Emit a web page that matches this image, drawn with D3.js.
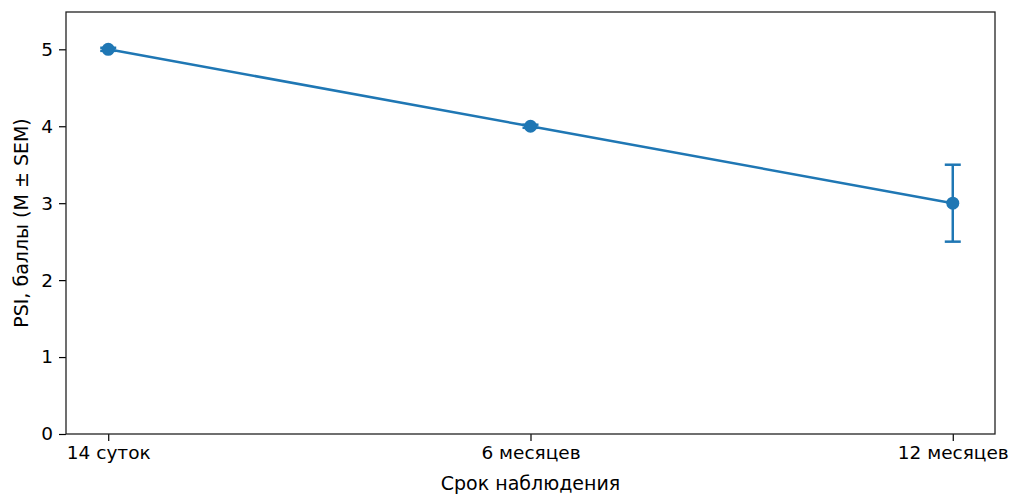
<!DOCTYPE html>
<html>
<head>
<meta charset="utf-8">
<script src="https://cdn.jsdelivr.net/npm/d3@7"></script>
<style>
  body { margin: 0; background: #fff; }
  svg { display: block; font-family: "DejaVu Sans", sans-serif; }
</style>
</head>
<body>
<div id="chart"></div>
<script>
    // ── data ──
    const categories = ["14 суток", "6 месяцев", "12 месяцев"];
    const means = [5.0, 4.0, 3.0];
    const sems = [0.02, 0.02, 0.5];
    const yTicks = [0, 1, 2, 3, 4, 5];

    const W = 1013, H = 495;
    const M = { left: 66, right: 18, top: 12, bottom: 61 };
    const color = "#1f77b4";
    const tickFont = 18.5, labelFont = 19;

    const svg = d3.select("#chart").append("svg")
        .attr("width", W).attr("height", H);

    const x = d3.scaleLinear()
        .domain([-0.1, categories.length - 1 + 0.1])
        .range([M.left, W - M.right]);
    const y = d3.scaleLinear()
        .domain([0, 5.485])
        .range([H - M.bottom, M.top]);

    // axes
    const xAxis = svg.append("g")
        .attr("transform", `translate(0,${H - M.bottom})`)
        .call(d3.axisBottom(x)
            .tickValues(d3.range(categories.length))
            .tickFormat(i => categories[i])
            .tickSize(7).tickPadding(5));
    const yAxis = svg.append("g")
        .attr("transform", `translate(${M.left},0)`)
        .call(d3.axisLeft(y).tickValues(yTicks).tickFormat(d3.format("d"))
            .tickSize(7).tickPadding(6));

    [xAxis, yAxis].forEach(g => {
        g.select(".domain").remove();
        g.selectAll("text").attr("font-size", tickFont).attr("fill", "#000")
            .attr("font-family", "DejaVu Sans, sans-serif");
        g.selectAll("line").attr("stroke", "#000").attr("stroke-width", 1.2);
    });

    // frame
    svg.append("rect")
        .attr("x", M.left).attr("y", M.top)
        .attr("width", W - M.left - M.right)
        .attr("height", H - M.top - M.bottom)
        .attr("fill", "none").attr("stroke", "#222").attr("stroke-width", 1.3);

    // line
    const idx = d3.range(categories.length);
    svg.append("path")
        .datum(idx)
        .attr("fill", "none").attr("stroke", color).attr("stroke-width", 2.5)
        .attr("d", d3.line().x(i => x(i)).y(i => y(means[i])));

    // error bars
    const cap = 8;
    const eb = svg.append("g").attr("stroke", color).attr("stroke-width", 2.5);
    idx.forEach(i => {
        const lo = y(means[i] - sems[i]), hi = y(means[i] + sems[i]);
        eb.append("line").attr("x1", x(i)).attr("x2", x(i)).attr("y1", lo).attr("y2", hi);
        eb.append("line").attr("x1", x(i) - cap).attr("x2", x(i) + cap).attr("y1", lo).attr("y2", lo);
        eb.append("line").attr("x1", x(i) - cap).attr("x2", x(i) + cap).attr("y1", hi).attr("y2", hi);
    });

    // markers
    svg.append("g").selectAll("circle")
        .data(idx).join("circle")
        .attr("cx", i => x(i)).attr("cy", i => y(means[i]))
        .attr("r", 6.5).attr("fill", color);

    // labels
    svg.append("text")
        .attr("x", x(1)).attr("y", 490)
        .attr("text-anchor", "middle").attr("font-size", labelFont)
        .text("Срок наблюдения");
    svg.append("text")
        .attr("transform", `translate(28,${(M.top + H - M.bottom) / 2}) rotate(-90)`)
        .attr("text-anchor", "middle").attr("font-size", labelFont)
        .text("PSI, баллы (M ± SEM)");
</script>
</body>
</html>
